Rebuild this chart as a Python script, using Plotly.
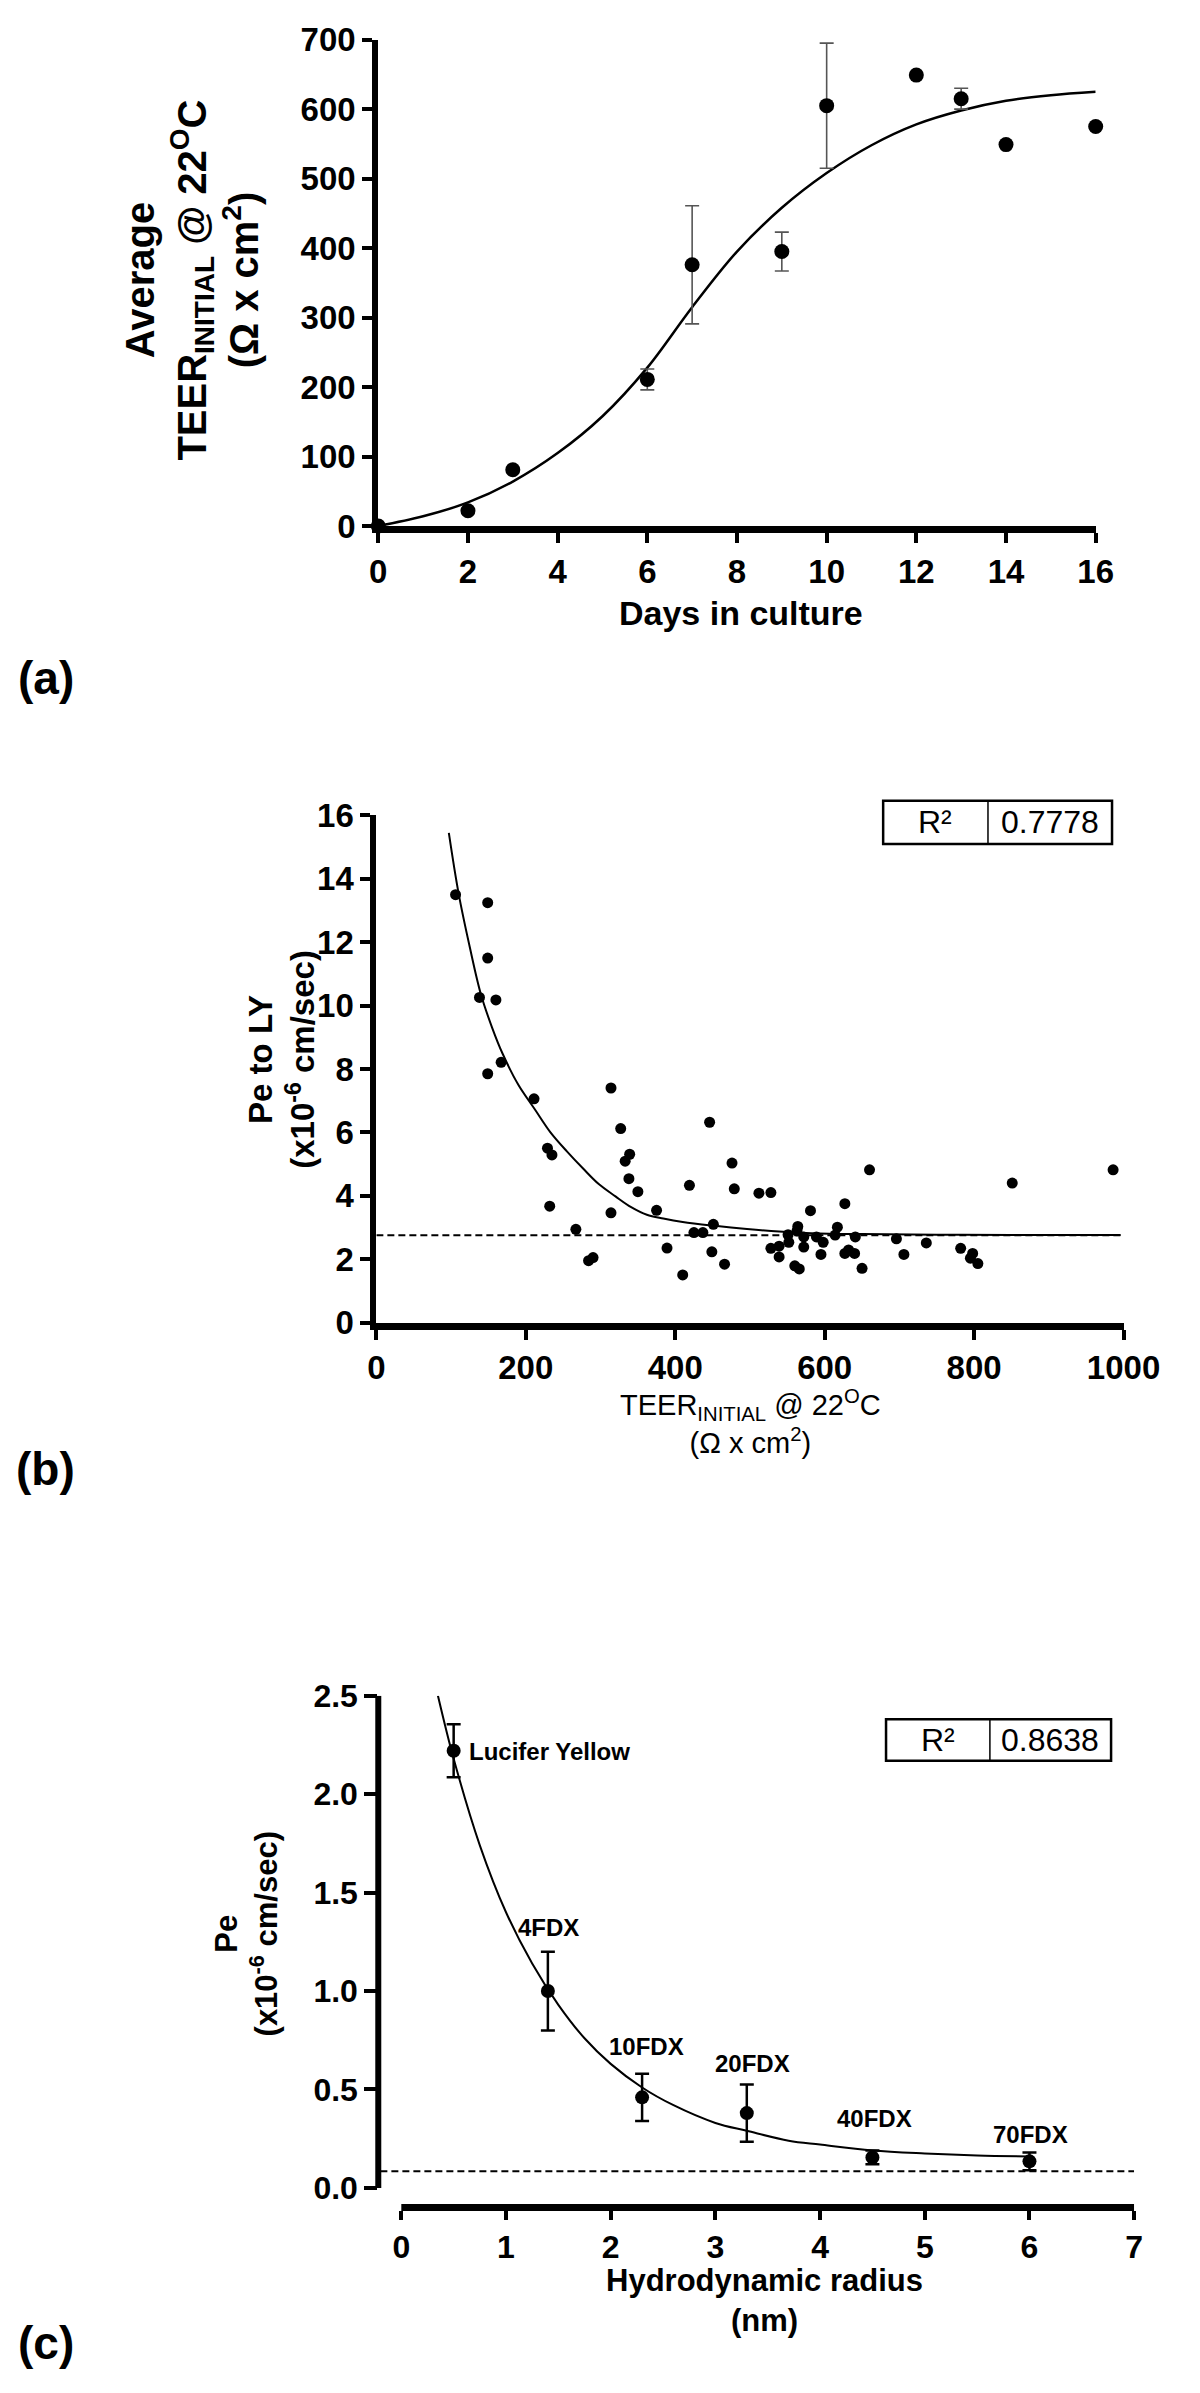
import plotly.graph_objects as go

W, H = 1200, 2393


def fx(px):
    return px / W


def fy(py):
    return 1 - py / H


FONT = "Liberation Sans, Arial, sans-serif"

# ---------------- Panel (a) data ----------------
days = [0, 2, 3, 6, 7, 9, 10, 12, 13, 14, 16]
teer = [0, 22, 81, 211, 376, 395, 605, 649, 615, 549, 575]
teer_err = [0, 0, 0, 15, 85, 28, 90, 0, 15, 0, 0]
fit_days = [0, 1, 2, 3, 4, 5, 6, 7, 8, 9, 10, 11, 12, 13, 14, 15, 16]
fit_teer = [0, 14, 34, 64, 105, 158, 228, 315, 395, 458, 508, 548, 578, 598, 612, 620, 625]
a_xticks = [0, 2, 4, 6, 8, 10, 12, 14, 16]
a_yticks = [0, 100, 200, 300, 400, 500, 600, 700]

# ---------------- Panel (b) data ----------------
pb_teer = [106, 149, 149, 138, 160, 167, 149, 211, 314, 327, 446, 229, 235, 339, 333,
           338, 476, 350, 419, 479, 512, 528, 232, 314, 375, 451, 267, 425, 437, 660,
           851, 986, 627, 581, 449, 466, 410, 528, 539, 539, 551, 552, 564, 563, 572,
           572, 560, 566, 589, 598, 595, 614, 617, 627, 632, 640, 641, 650, 696, 706,
           736, 782, 798, 795, 805, 284, 290, 389]
pb_pe = [13.5, 13.25, 11.5, 10.26, 10.18, 8.21, 7.85, 7.06, 7.40, 6.12, 6.32, 5.50, 5.29,
         5.31, 5.09, 4.54, 5.03, 4.13, 4.33, 4.22, 4.08, 4.10, 3.67, 3.46, 3.54, 3.10,
         2.94, 2.84, 2.84, 4.82, 4.40, 4.82, 3.75, 3.53, 2.23, 1.84, 1.50, 2.34, 2.41,
         2.07, 2.77, 2.53, 3.03, 2.89, 2.70, 2.38, 1.79, 1.69, 2.70, 2.53, 2.15, 2.76,
         3.01, 2.18, 2.29, 2.18, 2.70, 1.71, 2.64, 2.15, 2.51, 2.34, 2.18, 2.03, 1.86,
         1.95, 2.05, 2.35]
pb_fit_teer = [97, 110, 125, 140, 155, 169, 190, 212, 233, 255, 277, 298, 320, 341, 362,
               384, 410, 453, 496, 539, 582, 650, 750, 850, 996]
pb_fit_pe = [15.45, 13.55, 11.85, 10.35, 9.3, 8.48, 7.5, 6.73, 6.0, 5.4, 4.85, 4.36, 3.98,
             3.64, 3.4, 3.28, 3.17, 3.05, 2.95, 2.87, 2.82, 2.79, 2.77, 2.76, 2.76]
pb_baseline = 2.75
pb_r2 = "0.7778"
b_xticks = [0, 200, 400, 600, 800, 1000]
b_yticks = [0, 2, 4, 6, 8, 10, 12, 14, 16]

# ---------------- Panel (c) data ----------------
probes = ["Lucifer Yellow", "4FDX", "10FDX", "20FDX", "40FDX", "70FDX"]
radius = [0.5, 1.4, 2.3, 3.3, 4.5, 6.0]
pe = [2.22, 1.0, 0.46, 0.38, 0.155, 0.135]
pe_err = [0.135, 0.2, 0.12, 0.145, 0.035, 0.045]
pc_fit_r = [0.35, 0.5, 0.75, 1.0, 1.25, 1.5, 1.75, 2.0, 2.3, 2.6, 3.0, 3.3, 3.7, 4.0,
            4.5, 5.0, 5.5, 6.0]
pc_fit_pe = [2.50, 2.18, 1.74, 1.40, 1.14, 0.93, 0.76, 0.63, 0.51, 0.42, 0.33, 0.29,
             0.24, 0.22, 0.19, 0.175, 0.165, 0.16]
pc_baseline = 0.085
pc_r2 = "0.8638"
c_xticks = [0, 1, 2, 3, 4, 5, 6, 7]
c_yticks = [0.0, 0.5, 1.0, 1.5, 2.0, 2.5]

fig = go.Figure()

# ---- (a) traces ----
fig.add_trace(go.Scatter(x=fit_days, y=fit_teer, mode="lines", line=dict(color="black", width=2.5, shape="spline"),
                         xaxis="x", yaxis="y", hoverinfo="skip"))
err_days = [d for d, e in zip(days, teer_err) if e > 0]
err_vals = [v for v, e in zip(teer, teer_err) if e > 0]
err_e = [e for e in teer_err if e > 0]
fig.add_trace(go.Scatter(x=err_days, y=err_vals, mode="markers", marker=dict(size=1, color="rgba(0,0,0,0)"),
                         error_y=dict(type="data", array=err_e, color="#555555", thickness=1.6, width=7),
                         xaxis="x", yaxis="y", hoverinfo="skip"))
fig.add_trace(go.Scatter(x=days, y=teer, mode="markers", marker=dict(size=15, color="black"),
                         cliponaxis=False, xaxis="x", yaxis="y"))

# ---- (b) traces ----
fig.add_trace(go.Scatter(x=[0, 1000], y=[pb_baseline, pb_baseline], mode="lines",
                         line=dict(color="black", width=2, dash="7px,4px"), xaxis="x2", yaxis="y2", hoverinfo="skip"))
fig.add_trace(go.Scatter(x=pb_fit_teer, y=pb_fit_pe, mode="lines", line=dict(color="black", width=2, shape="spline"),
                         xaxis="x2", yaxis="y2", hoverinfo="skip"))
fig.add_trace(go.Scatter(x=pb_teer, y=pb_pe, mode="markers", marker=dict(size=11, color="black"),
                         cliponaxis=False, xaxis="x2", yaxis="y2"))

# ---- (c) traces ----
fig.add_trace(go.Scatter(x=[-0.2, 7.0], y=[pc_baseline, pc_baseline], mode="lines",
                         line=dict(color="black", width=2, dash="7px,4px"), xaxis="x3", yaxis="y3", hoverinfo="skip"))
fig.add_trace(go.Scatter(x=pc_fit_r, y=pc_fit_pe, mode="lines", line=dict(color="black", width=2, shape="spline"),
                         xaxis="x3", yaxis="y3", hoverinfo="skip", cliponaxis=False))
fig.add_trace(go.Scatter(x=radius, y=pe, mode="markers", marker=dict(size=14, color="black"),
                         error_y=dict(type="data", array=pe_err, color="black", thickness=2.5, width=7),
                         cliponaxis=False, xaxis="x3", yaxis="y3"))


def tickfont(s):
    return dict(family=FONT, size=s, color="black", weight="bold")


common = dict(showgrid=False, zeroline=False, ticks="outside", tickcolor="black", tickwidth=4,
              linecolor="black", mirror=False)

fig.update_layout(
    width=W, height=H,
    margin=dict(l=0, r=0, t=0, b=0),
    paper_bgcolor="white", plot_bgcolor="white",
    showlegend=False,
    font=dict(family=FONT, color="black"),
    xaxis=dict(domain=[fx(384), fx(1130)], range=[0, 16], tickvals=a_xticks, anchor="y",
               showline=True, linewidth=7, ticklen=10, tickfont=tickfont(33), **common),
    yaxis=dict(domain=[fy(516), fy(22)], range=[0, 700], tickvals=a_yticks, anchor="x",
               showline=True, linewidth=6, ticklen=10, tickfont=tickfont(33), **common),
    xaxis2=dict(domain=[fx(382), fx(1159)], range=[0, 1000], tickvals=b_xticks, anchor="y2",
                showline=True, linewidth=7, ticklen=10, tickfont=tickfont(33), **common),
    yaxis2=dict(domain=[fy(1325), fy(810)], range=[0, 16], tickvals=b_yticks, anchor="x2",
                showline=True, linewidth=6, ticklen=10, tickfont=tickfont(33), **common),
    xaxis3=dict(domain=[fx(384), fx(1170)], range=[-0.22, 7.0], tickvals=c_xticks, anchor="y3",
                showline=False, ticklen=9, tickfont=tickfont(32), **common),
    yaxis3=dict(domain=[fy(2226), fy(1704)], range=[-0.11, 2.5], tickvals=c_yticks, tickformat=".1f",
                anchor="x3", showline=False, ticklen=13, tickfont=tickfont(32), **common),
)

shapes = []
# panel (c) detached axis lines
shapes.append(dict(type="line", xref="paper", yref="y3", x0=fx(384), x1=fx(384), y0=0, y1=2.5,
                   line=dict(color="black", width=6)))
shapes.append(dict(type="line", xref="x3", yref="paper", x0=0, x1=7, y0=fy(2224), y1=fy(2224),
                   line=dict(color="black", width=7)))
# R2 boxes
for (x0, x1, xm, y0, y1) in [(909, 1147, 1018, 795, 839), (912, 1146, 1020, 1728, 1770)]:
    shapes.append(dict(type="rect", xref="paper", yref="paper", x0=fx(x0), x1=fx(x1), y0=fy(y1), y1=fy(y0),
                       line=dict(color="black", width=2.5), fillcolor="white"))
    shapes.append(dict(type="line", xref="paper", yref="paper", x0=fx(xm), x1=fx(xm), y0=fy(y1), y1=fy(y0),
                       line=dict(color="black", width=1.5)))
fig.update_layout(shapes=shapes)

ann = []


def A(text, x, y, size, bold=True, angle=0, xanchor="center", yanchor="middle", xref="paper", yref="paper"):
    ann.append(dict(text=text, x=x, y=y, xref=xref, yref=yref, showarrow=False, textangle=angle,
                    xanchor=xanchor, yanchor=yanchor,
                    font=dict(family=FONT, size=size, color="black", weight="bold" if bold else "normal")))


# panel (a) titles
A("Average<br>TEER<sub>INITIAL</sub> @ 22<sup>O</sup>C<br>(Ω x cm<sup>2</sup>)", fx(190), fy(266), 40, angle=-90)
A("Days in culture", fx(761), fy(604), 34)
A("(a)", fx(38), fy(670), 46)

# panel (b) titles
A("Pe to LY<br>(x10<sup>-6</sup> cm/sec)", fx(283), fy(1058), 33, angle=-90)
A("TEER<sub>INITIAL</sub> @ 22<sup>O</sup>C<br>(Ω x cm<sup>2</sup>)", fx(771), fy(1426), 29, bold=False)
A("(b)", fx(38), fy(1474), 46)
A("R²", fx(963), fy(817), 32, bold=False)
A(pb_r2, fx(1083), fy(817), 32, bold=False)

# panel (c) titles
A("Pe<br>(x10<sup>-6</sup> cm/sec)", fx(247), fy(1946), 31, angle=-90)
A("Hydrodynamic radius<br>(nm)", fx(786), fy(2318), 31)
A("(c)", fx(38), fy(2362), 46)
A("R²", fx(966), fy(1749), 32, bold=False)
A(pc_r2, fx(1083), fy(1749), 32, bold=False)

# probe labels (positions in data coordinates of panel c)
label_pos = [(0.63, 2.215, "left"), (1.41, 1.325, "center"), (2.34, 0.72, "center"),
             (3.35, 0.63, "center"), (4.52, 0.355, "center"), (6.01, 0.27, "center")]
for name, (lx, ly, anc) in zip(probes, label_pos):
    A(name, lx, ly, 24, xanchor=anc, xref="x3", yref="y3")

fig.update_layout(annotations=ann)

fig.write_html("out.html", config={"displayModeBar": False},
               post_script="document.body.style.margin='0';document.body.style.overflow='hidden';")
